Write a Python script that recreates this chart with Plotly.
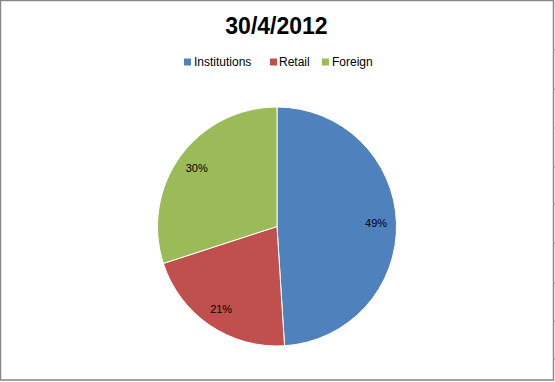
import plotly.graph_objects as go

labels = ["Institutions", "Retail", "Foreign"]
values = [49, 21, 30]
colors = ["#4F81BD", "#C0504D", "#9BBB59"]
title_text = "30/4/2012"

W, H = 555, 382
cx, cy, R = 277, 226.5, 119.5
dom_x = [(cx - R) / W, (cx + R) / W]
dom_y = [(H - cy - R) / H, (H - cy + R) / H]

fig = go.Figure()
fig.add_trace(go.Pie(
    labels=labels, values=values, sort=False, direction="clockwise", rotation=0,
    marker=dict(colors=colors, line=dict(color="white", width=1)),
    textinfo="none", hoverinfo="label+percent", domain=dict(x=dom_x, y=dom_y),
    showlegend=False,
))
# transparent ring carrying the percentage labels near the rim
fig.add_trace(go.Pie(
    labels=labels, values=values, sort=False, direction="clockwise", rotation=0,
    hole=0.66,
    marker=dict(colors=["rgba(0,0,0,0)"] * 3, line=dict(width=0)),
    textinfo="percent", textposition="inside", insidetextorientation="horizontal",
    texttemplate="%{percent:.0%}",
    textfont=dict(family="Liberation Sans", size=11, color="black"),
    hoverinfo="skip", domain=dict(x=dom_x, y=dom_y), showlegend=False,
))

shapes = [dict(type="rect", xref="paper", yref="paper",
               x0=0.5 / W, x1=553.5 / W, y0=(H - 380) / H, y1=1 - 0.5 / H,
               line=dict(color="#878787", width=1.5), fillcolor="rgba(0,0,0,0)")]
for ty in [50, 89, 128, 167, 204, 243, 283, 321, 359]:
    shapes.append(dict(type="line", xref="paper", yref="paper",
                       x0=553 / W, x1=1, y0=(H - ty) / H, y1=(H - ty) / H,
                       line=dict(color="#9a9a9a", width=1)))

# legend (Excel-style compact layout)
leg_marker_x = [184, 270, 322]
leg_text_x = [192, 277, 330]
leg_y = 62
annotations = []
for lab, col, mx, tx in zip(labels, colors, leg_marker_x, leg_text_x):
    shapes.append(dict(type="rect", xref="paper", yref="paper",
                       x0=mx / W, x1=(mx + 7) / W,
                       y0=(H - leg_y - 3.5) / H, y1=(H - leg_y + 3.5) / H,
                       line=dict(width=0), fillcolor=col))
    annotations.append(dict(text=lab, xref="paper", yref="paper",
                            x=tx / W, y=(H - leg_y) / H, xanchor="left", yanchor="middle",
                            showarrow=False,
                            font=dict(family="Liberation Sans", size=12, color="black")))

fig.update_layout(
    width=W, height=H,
    margin=dict(l=0, r=0, t=0, b=0),
    paper_bgcolor="white", plot_bgcolor="white",
    title=dict(text="<b>" + title_text + "</b>", x=276.5 / W, xanchor="center",
               y=1 - 26 / H, yanchor="middle",
               font=dict(family="Liberation Sans", size=23, color="black")),
    shapes=shapes,
    annotations=annotations,
)

fig.write_html("out.html")
